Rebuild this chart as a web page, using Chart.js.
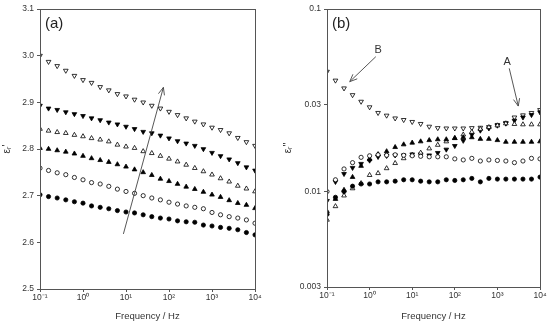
<!DOCTYPE html>
<html>
<head>
<meta charset="utf-8">
<script src="https://cdn.jsdelivr.net/npm/chart.js@4/dist/chart.umd.min.js"></script>
<style>
  body { margin: 0; background: #fff; }
  #wrap { position: relative; width: 550px; height: 323px; }
  canvas { position: absolute; top: 0; }
  #pa { left: 0; }
  #pb { left: 275px; }
</style>
</head>
<body>
<div id="wrap">
  <canvas id="pa" width="275" height="323"></canvas>
  <canvas id="pb" width="275" height="323"></canvas>
</div>
<script>
// measurement frequencies, Hz (5 per decade)
const freq = [0.1, 0.158, 0.251, 0.398, 0.631, 1, 1.58, 2.51, 3.98, 6.31,
  10, 15.8, 25.1, 39.8, 63.1, 100, 158, 251, 398, 631,
  1000, 1580, 2510, 3980, 6310, 10000]
const freqTicks = [0.1, 1, 10, 100, 1000, 10000]
const supers = { '-1': '\u207b\u00b9', '0': '\u2070', '1': '\u00b9', '2': '\u00b2', '3': '\u00b3', '4': '\u2074' }

// panel (a): real permittivity
const aTicks = [2.5, 2.6, 2.7, 2.8, 2.9, 3.0, 3.1]
const aOpenDown = [3.000, 2.987, 2.978, 2.968, 2.957, 2.948, 2.942, 2.933, 2.926, 2.918, 2.913, 2.906, 2.900,
  2.893, 2.887, 2.880, 2.873, 2.866, 2.859, 2.853, 2.846, 2.841, 2.834, 2.824, 2.815, 2.807]
const aFilledDown = [2.893, 2.887, 2.884, 2.879, 2.875, 2.871, 2.866, 2.862, 2.857, 2.853, 2.848, 2.843, 2.837,
  2.834, 2.829, 2.823, 2.817, 2.812, 2.807, 2.800, 2.792, 2.785, 2.778, 2.770, 2.761, 2.754]
const aOpenUp = [2.843, 2.839, 2.836, 2.834, 2.830, 2.827, 2.823, 2.820, 2.816, 2.809, 2.805, 2.802, 2.795,
  2.791, 2.785, 2.779, 2.773, 2.766, 2.759, 2.752, 2.745, 2.737, 2.730, 2.721, 2.715, 2.709]
const aFilledUp = [2.802, 2.800, 2.797, 2.794, 2.790, 2.785, 2.780, 2.776, 2.772, 2.767, 2.762, 2.756, 2.750,
  2.744, 2.736, 2.731, 2.725, 2.719, 2.714, 2.708, 2.702, 2.697, 2.690, 2.684, 2.680, 2.673]
const aOpenCircle = [2.759, 2.754, 2.749, 2.745, 2.739, 2.734, 2.728, 2.725, 2.720, 2.714, 2.709, 2.705, 2.700,
  2.695, 2.691, 2.686, 2.682, 2.678, 2.675, 2.672, 2.664, 2.659, 2.655, 2.652, 2.648, 2.641]
const aFilledCircle = [2.702, 2.698, 2.695, 2.691, 2.687, 2.684, 2.678, 2.675, 2.672, 2.668, 2.665, 2.663, 2.659,
  2.655, 2.652, 2.650, 2.646, 2.644, 2.643, 2.637, 2.635, 2.632, 2.630, 2.627, 2.621, 2.616]

// panel (b): imaginary permittivity
const bTicks = [0.003, 0.01, 0.03, 0.1]
const bOpenDown = [0.0454, 0.0406, 0.0368, 0.0338, 0.0311, 0.0290, 0.0270, 0.0261, 0.0252, 0.0247, 0.0241, 0.0235, 0.0227,
  0.0223, 0.0222, 0.0222, 0.0222, 0.0223, 0.0224, 0.0226, 0.0232, 0.0238, 0.0255, 0.0262, 0.0270, 0.0280]
const bFilledDown = [0.0089, 0.0113, 0.0125, 0.0135, 0.0142, 0.0148, 0.0155, 0.0157, 0.0158, 0.0158, 0.0160, 0.0160, 0.0158,
  0.0163, 0.0170, 0.0178, 0.0190, 0.0205, 0.0216, 0.0222, 0.0230, 0.0236, 0.0245, 0.0255, 0.0263, 0.0272]
const bOpenUp = [0.0070, 0.0083, 0.0095, 0.0104, 0.0111, 0.0123, 0.0126, 0.0134, 0.0143, 0.0152, 0.0159, 0.0163, 0.0172,
  0.0180, 0.0188, 0.0196, 0.0205, 0.0212, 0.0220, 0.0225, 0.0230, 0.0236, 0.0234, 0.0233, 0.0233, 0.0233]
const bFilledUp = [0.0078, 0.0091, 0.0102, 0.0120, 0.0138, 0.0150, 0.0160, 0.0166, 0.0175, 0.0181, 0.0185, 0.0188, 0.0191,
  0.0193, 0.0193, 0.0196, 0.0198, 0.0198, 0.0194, 0.0194, 0.0191, 0.0187, 0.0187, 0.0187, 0.0187, 0.0188]
const bOpenCircle = [0.0100, 0.0116, 0.0133, 0.0144, 0.0154, 0.0157, 0.0159, 0.0158, 0.0159, 0.0158, 0.0157, 0.0156, 0.0155,
  0.0155, 0.0155, 0.0151, 0.0149, 0.0152, 0.0147, 0.0149, 0.0148, 0.0147, 0.0144, 0.0147, 0.0152, 0.0151]
const bFilledCircle = [0.0075, 0.0093, 0.0100, 0.0107, 0.0110, 0.0110, 0.0113, 0.0113, 0.0114, 0.0116, 0.0116, 0.0114, 0.0113,
  0.0113, 0.0116, 0.0115, 0.0116, 0.0118, 0.0113, 0.0118, 0.0117, 0.0117, 0.0117, 0.0117, 0.0117, 0.0120]

// annotation arrows, in data units [freq, value]
const arrowsA = [{ from: [8.7, 2.618], to: [74, 2.932] }]
const arrowsB = [
  { from: [1.40, 0.0548], to: [0.342, 0.040], label: 'B', at: [1.58, 0.0596] },
  { from: [1897, 0.0473], to: [3090, 0.0294], label: 'A', at: [1702, 0.0514] }
]

Chart.defaults.font.family = '"Liberation Sans", Arial, sans-serif'
Chart.defaults.color = '#333'

const axisColor = '#555'

function series(ys, style, filled, down) {
  const round = style === 'circle'
  return {
    data: freq.map((f, i) => ({ x: f, y: ys[i] })),
    pointStyle: style,
    pointRotation: down ? 180 : 0,
    pointRadius: round ? 2.1 : 2.7,
    borderWidth: 0.8,
    borderColor: '#000',
    backgroundColor: filled ? '#000' : '#fff',
    showLine: false
  }
}

const framePlugin = {
  id: 'frame',
  afterDatasetsDraw(chart, args, opts) {
    const { ctx, chartArea: a } = chart
    ctx.save()
    ctx.strokeStyle = axisColor
    ctx.lineWidth = 1
    ctx.strokeRect(Math.round(a.left) + 0.5, Math.round(a.top) + 0.5,
      Math.round(a.right - a.left), Math.round(a.bottom - a.top))
    ctx.fillStyle = '#222'
    ctx.font = '15px "Liberation Sans", Arial, sans-serif'
    ctx.textBaseline = 'middle'
    ctx.fillText(opts.tag, a.left + 5, a.top + 15)
    const xs = chart.scales.x, ys = chart.scales.y
    ctx.strokeStyle = '#444'
    ctx.lineWidth = 0.9
    for (const ar of opts.arrows || []) {
      const x0 = xs.getPixelForValue(ar.from[0]), y0 = ys.getPixelForValue(ar.from[1])
      const x1 = xs.getPixelForValue(ar.to[0]), y1 = ys.getPixelForValue(ar.to[1])
      ctx.beginPath()
      ctx.moveTo(x0, y0)
      ctx.lineTo(x1, y1)
      const ang = Math.atan2(y1 - y0, x1 - x0)
      for (const d of [-0.4, 0.4]) {
        ctx.moveTo(x1, y1)
        ctx.lineTo(x1 - 8 * Math.cos(ang + d), y1 - 8 * Math.sin(ang + d))
      }
      ctx.stroke()
      if (ar.label) {
        ctx.font = '11px "Liberation Sans", Arial, sans-serif'
        ctx.textAlign = 'center'
        ctx.fillStyle = '#333'
        ctx.fillText(ar.label, xs.getPixelForValue(ar.at[0]), ys.getPixelForValue(ar.at[1]))
      }
    }
    ctx.restore()
  }
}

function xAxis(height) {
  return {
    type: 'logarithmic',
    min: 0.1,
    max: 10000,
    afterBuildTicks: s => { s.ticks = freqTicks.map(v => ({ value: v })) },
    afterFit: s => { s.height = height },
    ticks: {
      font: { size: 8.5 },
      padding: 1,
      maxRotation: 0,
      callback: v => '10' + supers[String(Math.round(Math.log10(v)))]
    },
    grid: { drawOnChartArea: false, tickLength: 3, color: axisColor },
    border: { color: axisColor },
    title: { display: true, text: 'Frequency / Hz', font: { size: 9.5 }, padding: { top: 0, bottom: 1 } }
  }
}

function makeChart(id, sets, yScale, pad, tag, arrows) {
  return new Chart(document.getElementById(id), {
    type: 'scatter',
    data: { datasets: sets },
    options: {
      responsive: false,
      animation: false,
      events: [],
      layout: { padding: pad },
      plugins: { legend: { display: false }, tooltip: { enabled: false }, frame: { tag, arrows } },
      scales: { x: xAxis(pad.xh), y: yScale }
    },
    plugins: [framePlugin]
  })
}

makeChart('pa', [
  series(aOpenDown, 'triangle', false, true),
  series(aFilledDown, 'triangle', true, true),
  series(aOpenUp, 'triangle', false, false),
  series(aFilledUp, 'triangle', true, false),
  series(aOpenCircle, 'circle', false, false),
  series(aFilledCircle, 'circle', true, false)
], {
  type: 'linear',
  min: 2.5,
  max: 3.1,
  afterBuildTicks: s => { s.ticks = aTicks.map(v => ({ value: v })) },
  afterFit: s => { s.width = 40 },
  ticks: { font: { size: 8.5 }, padding: 3, callback: v => v.toFixed(1) },
  grid: { drawOnChartArea: false, tickLength: 3, color: axisColor },
  border: { color: axisColor },
  title: { display: true, text: "\u03b5\u1d63'", font: { size: 10 }, padding: { top: 1, bottom: 0 } }
}, { top: 9, right: 20, left: 0, bottom: 0, xh: 34 }, '(a)', arrowsA)

makeChart('pb', [
  series(bFilledCircle, 'circle', true, false),
  series(bOpenCircle, 'circle', false, false),
  series(bFilledUp, 'triangle', true, false),
  series(bOpenUp, 'triangle', false, false),
  series(bFilledDown, 'triangle', true, true),
  series(bOpenDown, 'triangle', false, true)
], {
  type: 'logarithmic',
  min: 0.003,
  max: 0.1,
  afterBuildTicks: s => { s.ticks = bTicks.map(v => ({ value: v })) },
  afterFit: s => { s.width = 52 },
  ticks: { font: { size: 8.5 }, padding: 3, callback: v => String(v) },
  grid: { drawOnChartArea: false, tickLength: 3, color: axisColor },
  border: { color: axisColor },
  title: { display: true, text: "\u03b5\u1d63''", font: { size: 10 }, padding: { top: 7, bottom: 0 } }
}, { top: 9, right: 10, left: 0, bottom: 0, xh: 36 }, '(b)', arrowsB)
</script>
</body>
</html>
